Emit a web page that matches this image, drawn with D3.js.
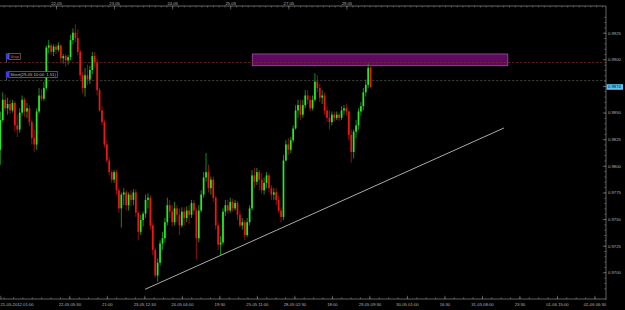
<!DOCTYPE html>
<html>
<head>
<meta charset="utf-8">
<script src="https://cdn.jsdelivr.net/npm/d3@7"></script>
<style>
  body { margin: 0; background: #000; }
  svg { display: block; }
  text { font-family: "Liberation Sans", Arial, sans-serif; font-size: 4.2px; }
</style>
</head>
<body>
<div id="chart"></div>
<script>
// H1 bars, bar n sits at chart hour n (hours counted from 21-05 00:00, weekend removed)
var opens = [
  0.9815, 0.9843, 0.9862, 0.9854, 0.9858, 0.9852, 0.9859, 0.9838, 0.9834, 0.9850,
  0.9862, 0.9851, 0.9854, 0.9841, 0.9826, 0.9820, 0.9851, 0.9866, 0.9863, 0.9873,
  0.9911, 0.9913, 0.9907, 0.9912, 0.9909, 0.9913, 0.9901, 0.9903, 0.9899, 0.9902,
  0.9918, 0.9925, 0.9920, 0.9907, 0.9885, 0.9873, 0.9885, 0.9881, 0.9890, 0.9903,
  0.9897, 0.9871, 0.9852, 0.9841, 0.9820, 0.9805, 0.9794, 0.9787, 0.9794, 0.9777,
  0.9760, 0.9773, 0.9775, 0.9763, 0.9773, 0.9768, 0.9775, 0.9756, 0.9738, 0.9749,
  0.9755, 0.9768, 0.9770, 0.9744, 0.9721, 0.9697, 0.9709, 0.9727, 0.9732, 0.9747,
  0.9763, 0.9757, 0.9747, 0.9760, 0.9754, 0.9744, 0.9757, 0.9751, 0.9758, 0.9754,
  0.9765, 0.9758, 0.9732, 0.9758, 0.9773, 0.9789, 0.9794, 0.9779, 0.9787, 0.9770,
  0.9744, 0.9726, 0.9728, 0.9757, 0.9763, 0.9758, 0.9766, 0.9760, 0.9765, 0.9754,
  0.9744, 0.9747, 0.9735, 0.9747, 0.9760, 0.9791, 0.9785, 0.9794, 0.9787, 0.9777,
  0.9784, 0.9791, 0.9779, 0.9773, 0.9775, 0.9768, 0.9758, 0.9752, 0.9805, 0.9820,
  0.9815, 0.9824, 0.9835, 0.9852, 0.9857, 0.9848, 0.9857, 0.9866, 0.9862, 0.9854,
  0.9862, 0.9879, 0.9873, 0.9864, 0.9866, 0.9852, 0.9845, 0.9841, 0.9848, 0.9845,
  0.9848, 0.9845, 0.9852, 0.9854, 0.9851, 0.9829, 0.9813, 0.9832, 0.9838, 0.9851,
  0.9856, 0.9869, 0.9876, 0.9892
];
var highs = [
  0.9851, 0.9869, 0.9867, 0.9864, 0.9862, 0.9862, 0.9861, 0.9848, 0.9854, 0.9866,
  0.9864, 0.9859, 0.9857, 0.9843, 0.9834, 0.9854, 0.9873, 0.9872, 0.9879, 0.9913,
  0.9918, 0.9915, 0.9914, 0.9914, 0.9916, 0.9914, 0.9905, 0.9905, 0.9904, 0.9923,
  0.9929, 0.9933, 0.9928, 0.9909, 0.9888, 0.9892, 0.9895, 0.9894, 0.9907, 0.9907,
  0.9901, 0.9873, 0.9856, 0.9843, 0.9824, 0.9808, 0.9796, 0.9796, 0.9796, 0.9779,
  0.9775, 0.9779, 0.9777, 0.9775, 0.9777, 0.9778, 0.9778, 0.9758, 0.9754, 0.9757,
  0.9773, 0.9774, 0.9772, 0.9747, 0.9723, 0.9713, 0.9730, 0.9738, 0.9751, 0.9770,
  0.9768, 0.9763, 0.9766, 0.9763, 0.9760, 0.9761, 0.9761, 0.9762, 0.9763, 0.9768,
  0.9768, 0.9760, 0.9763, 0.9777, 0.9794, 0.9812, 0.9801, 0.9790, 0.9790, 0.9772,
  0.9747, 0.9734, 0.9760, 0.9768, 0.9768, 0.9770, 0.9769, 0.9768, 0.9767, 0.9758,
  0.9751, 0.9749, 0.9751, 0.9763, 0.9796, 0.9798, 0.9798, 0.9796, 0.9793, 0.9789,
  0.9794, 0.9793, 0.9782, 0.9779, 0.9779, 0.9772, 0.9761, 0.9810, 0.9824, 0.9826,
  0.9827, 0.9838, 0.9857, 0.9862, 0.9862, 0.9862, 0.9871, 0.9871, 0.9866, 0.9866,
  0.9887, 0.9885, 0.9877, 0.9871, 0.9869, 0.9856, 0.9852, 0.9851, 0.9851, 0.9851,
  0.9850, 0.9856, 0.9857, 0.9858, 0.9852, 0.9834, 0.9834, 0.9843, 0.9854, 0.9860,
  0.9873, 0.9881, 0.9896, 0.9894
];
var lows = [
  0.9801, 0.9841, 0.9851, 0.9848, 0.9849, 0.9850, 0.9832, 0.9827, 0.9831, 0.9847,
  0.9846, 0.9845, 0.9837, 0.9820, 0.9813, 0.9815, 0.9849, 0.9861, 0.9861, 0.9871,
  0.9906, 0.9904, 0.9903, 0.9905, 0.9907, 0.9897, 0.9896, 0.9893, 0.9895, 0.9899,
  0.9914, 0.9916, 0.9904, 0.9881, 0.9868, 0.9865, 0.9876, 0.9877, 0.9886, 0.9892,
  0.9866, 0.9851, 0.9838, 0.9817, 0.9803, 0.9791, 0.9784, 0.9784, 0.9773, 0.9756,
  0.9742, 0.9763, 0.9758, 0.9758, 0.9762, 0.9763, 0.9752, 0.9730, 0.9735, 0.9743,
  0.9751, 0.9760, 0.9740, 0.9716, 0.9695, 0.9691, 0.9706, 0.9721, 0.9728, 0.9744,
  0.9751, 0.9743, 0.9744, 0.9747, 0.9735, 0.9742, 0.9744, 0.9747, 0.9745, 0.9751,
  0.9754, 0.9712, 0.9728, 0.9756, 0.9770, 0.9785, 0.9775, 0.9773, 0.9766, 0.9740,
  0.9721, 0.9716, 0.9726, 0.9753, 0.9755, 0.9756, 0.9757, 0.9758, 0.9749, 0.9742,
  0.9740, 0.9730, 0.9733, 0.9744, 0.9758, 0.9779, 0.9782, 0.9777, 0.9774, 0.9773,
  0.9779, 0.9775, 0.9768, 0.9768, 0.9763, 0.9756, 0.9747, 0.9749, 0.9804, 0.9810,
  0.9812, 0.9822, 0.9834, 0.9845, 0.9843, 0.9845, 0.9854, 0.9858, 0.9851, 0.9852,
  0.9860, 0.9869, 0.9860, 0.9858, 0.9848, 0.9841, 0.9834, 0.9838, 0.9842, 0.9843,
  0.9842, 0.9843, 0.9848, 0.9847, 0.9824, 0.9803, 0.9807, 0.9826, 0.9834, 0.9847,
  0.9852, 0.9865, 0.9873, 0.9873
];
var closes = [
  0.9843, 0.9862, 0.9854, 0.9858, 0.9852, 0.9859, 0.9838, 0.9834, 0.9850, 0.9862,
  0.9851, 0.9854, 0.9841, 0.9826, 0.9820, 0.9851, 0.9866, 0.9863, 0.9873, 0.9911,
  0.9913, 0.9907, 0.9912, 0.9909, 0.9913, 0.9901, 0.9903, 0.9899, 0.9902, 0.9918,
  0.9925, 0.9920, 0.9907, 0.9885, 0.9873, 0.9885, 0.9881, 0.9890, 0.9903, 0.9897,
  0.9871, 0.9852, 0.9841, 0.9820, 0.9805, 0.9794, 0.9787, 0.9794, 0.9777, 0.9760,
  0.9773, 0.9775, 0.9763, 0.9773, 0.9768, 0.9775, 0.9756, 0.9738, 0.9749, 0.9755,
  0.9768, 0.9770, 0.9744, 0.9721, 0.9697, 0.9709, 0.9727, 0.9732, 0.9747, 0.9763,
  0.9757, 0.9747, 0.9760, 0.9754, 0.9744, 0.9757, 0.9751, 0.9758, 0.9754, 0.9765,
  0.9758, 0.9732, 0.9758, 0.9773, 0.9789, 0.9794, 0.9779, 0.9787, 0.9770, 0.9744,
  0.9726, 0.9728, 0.9757, 0.9763, 0.9758, 0.9766, 0.9760, 0.9765, 0.9754, 0.9744,
  0.9747, 0.9735, 0.9747, 0.9760, 0.9791, 0.9785, 0.9794, 0.9787, 0.9777, 0.9784,
  0.9791, 0.9779, 0.9773, 0.9775, 0.9768, 0.9758, 0.9752, 0.9805, 0.9820, 0.9815,
  0.9824, 0.9835, 0.9852, 0.9857, 0.9848, 0.9857, 0.9866, 0.9862, 0.9854, 0.9862,
  0.9879, 0.9873, 0.9864, 0.9866, 0.9852, 0.9845, 0.9841, 0.9848, 0.9845, 0.9848,
  0.9845, 0.9852, 0.9854, 0.9851, 0.9829, 0.9813, 0.9832, 0.9838, 0.9851, 0.9856,
  0.9869, 0.9876, 0.9892, 0.9874
];

// Top axis day labels (chart hour of midnight)
var dayLabels = ["22.05", "23.05", "24.05", "25.05", "27.05", "29.05"];
var dayHours = [24, 48, 72, 96, 120, 144];

// Bottom axis time labels
var timeLabels = ["21-05-2012 01:00", "22-05 05:30", "21:00", "23-05 12:30", "24-05 04:00", "19:30",
  "25-05 11:00", "28-05 02:30", "18:00", "29-05 09:30", "30-05 01:00", "16:30",
  "31-05 08:00", "23:30", "01-06 15:00", "02-06 06:30"];
var timeHours = [1, 29.5, 45, 60.5, 76, 91.5, 107, 122.5, 138, 153.5, 169, 184.5, 200, 215.5, 231, 246.5];

// Price axis labels
var priceTicks = [0.9700, 0.9725, 0.9750, 0.9775, 0.9800, 0.9825, 0.9850, 0.9875, 0.9900, 0.9925];

// Order lines
var orderNames = ["Stop", "Short(29-05 10:04; 1.51)"];
var orderPrices = [0.9897, 0.9880];

// Supply zone rectangle (hours / prices)
var zoneHours = [105.1, 210.7];
var zonePrices = [0.9894, 0.9905];

// Trend line end points
var trendHours = [60.8, 209.1];
var trendPrices = [0.9684, 0.98355];

var svgWidth = 625;
var svgHeight = 310;
var axisRight = 606;
var axisTop = 6;
var axisBottom = 299;

var svg = d3.select("#chart")
  .append("svg")
  .attr("width", svgWidth)
  .attr("height", svgHeight);

svg.append("rect")
  .attr("width", svgWidth)
  .attr("height", svgHeight)
  .attr("fill", "#000");

var xScale = d3.scaleLinear().domain([0, 251]).range([-2.08, 605.34]);
var yScale = d3.scaleLinear().domain([0.97, 0.99]).range([272.3, 59.3]);

svg.append("clipPath").attr("id", "plot")
  .append("rect")
  .attr("x", 0).attr("y", axisTop)
  .attr("width", axisRight).attr("height", axisBottom - axisTop);

var plot = svg.append("g").attr("clip-path", "url(#plot)");

// zone
plot.append("rect")
  .attr("x", xScale(zoneHours[0]))
  .attr("y", yScale(zonePrices[1]))
  .attr("width", xScale(zoneHours[1]) - xScale(zoneHours[0]))
  .attr("height", yScale(zonePrices[0]) - yScale(zonePrices[1]))
  .attr("fill", "#5e0a5e")
  .attr("stroke", "#a050a0")
  .attr("stroke-width", 0.8);

// trend line
var trendLine = d3.line()
  .x(function (d) { return xScale(d[0]); })
  .y(function (d) { return yScale(d[1]); });
plot.append("path")
  .attr("d", trendLine(d3.zip(trendHours, trendPrices)))
  .attr("stroke", "#bdbdbd")
  .attr("stroke-width", 0.9)
  .attr("fill", "none");

// order lines
var lineColors = ["#7c2a2a", "#4a5444"];
orderPrices.forEach(function (p, i) {
  plot.append("line")
    .attr("x1", 0).attr("x2", axisRight)
    .attr("y1", yScale(p)).attr("y2", yScale(p))
    .attr("stroke", lineColors[i])
    .attr("stroke-width", 0.7)
    .attr("stroke-dasharray", "2.5,1.5");
});

// candles
var bars = d3.range(closes.length).map(function (i) {
  return { hour: i + 1, o: opens[i], h: highs[i], l: lows[i], c: closes[i] };
});

var candle = plot.selectAll(".candle")
  .data(bars)
  .enter()
  .append("g")
  .attr("class", "candle");

candle.append("line")
  .attr("x1", d => xScale(d.hour))
  .attr("x2", d => xScale(d.hour))
  .attr("y1", d => yScale(d.h))
  .attr("y2", d => yScale(d.l))
  .attr("stroke", d => d.c > d.o ? "#1c9a1c" : "#a31010")
  .attr("stroke-width", 0.9);

candle.append("rect")
  .attr("x", d => xScale(d.hour) - 0.85)
  .attr("y", d => yScale(Math.max(d.o, d.c)))
  .attr("width", 1.7)
  .attr("height", d => Math.max(0.6, Math.abs(yScale(d.o) - yScale(d.c))))
  .attr("fill", d => d.c > d.o ? "#22ee22" : "#f51414");

// order labels
var flagColors = ["#e04848", "#bdbdbd"];
orderPrices.forEach(function (p, i) {
  var y = yScale(p);
  svg.append("line")
    .attr("x1", 6.5).attr("x2", 6.5)
    .attr("y1", y - 3).attr("y2", y)
    .attr("stroke", "#8888cc").attr("stroke-width", 0.6);
  svg.append("rect")
    .attr("x", 5.8).attr("y", y - 9.2)
    .attr("width", 3.2).attr("height", 6.2)
    .attr("fill", "#3c3ce0");
  var t = svg.append("text")
    .attr("x", 10.2).attr("y", y - 4.6)
    .attr("fill", flagColors[i])
    .text(orderNames[i]);
  var w = t.node().getComputedTextLength();
  svg.insert("rect", "text")
    .attr("x", 9).attr("y", y - 9)
    .attr("width", w + 2.6).attr("height", 5.8)
    .attr("fill", "#000")
    .attr("stroke", "#8a8a8a").attr("stroke-width", 0.6);
});

// axes frame
var axisColor = "#8c8c8c";
var labelColor = "#b5b5b5";

svg.append("line")
  .attr("x1", 0).attr("x2", axisRight)
  .attr("y1", axisTop).attr("y2", axisTop)
  .attr("stroke", axisColor).attr("stroke-width", 0.7);
svg.append("line")
  .attr("x1", 0).attr("x2", axisRight)
  .attr("y1", axisBottom).attr("y2", axisBottom)
  .attr("stroke", axisColor).attr("stroke-width", 0.7);
svg.append("line")
  .attr("x1", axisRight).attr("x2", axisRight)
  .attr("y1", axisTop).attr("y2", axisBottom + 1)
  .attr("stroke", axisColor).attr("stroke-width", 0.7);

function styleAxis(g) {
  g.select(".domain").remove();
  g.selectAll("line").attr("stroke", axisColor).attr("stroke-width", 0.6);
  g.selectAll("text").attr("fill", labelColor).attr("font-size", "4.2px")
    .attr("font-family", "Liberation Sans, Arial, sans-serif");
}

// top axis
var topMinor = d3.axisTop(xScale)
  .tickValues(d3.range(2.4, 250, 2.4))
  .tickFormat("")
  .tickSizeInner(-1.4).tickSizeOuter(0);
svg.append("g").attr("transform", `translate(0, ${axisTop})`).call(topMinor).call(styleAxis);

var topMajor = d3.axisTop(xScale)
  .tickValues(dayHours)
  .tickFormat((d, i) => dayLabels[i])
  .tickSizeInner(-3.5).tickSizeOuter(0)
  .tickPadding(1.4);
svg.append("g").attr("transform", `translate(0, ${axisTop})`).call(topMajor).call(styleAxis);

// bottom axis
var bottomMinor = d3.axisBottom(xScale)
  .tickValues(d3.range(2.375, 250, 3.875))
  .tickFormat("")
  .tickSizeInner(-1.6).tickSizeOuter(0);
svg.append("g").attr("transform", `translate(0, ${axisBottom})`).call(bottomMinor).call(styleAxis);

var bottomMajor = d3.axisBottom(xScale)
  .tickValues(timeHours)
  .tickFormat((d, i) => timeLabels[i])
  .tickSizeInner(-3.2).tickSizeOuter(0)
  .tickPadding(4.3);
var bottomG = svg.append("g").attr("transform", `translate(0, ${axisBottom})`).call(bottomMajor).call(styleAxis);
bottomG.selectAll("text").filter((d, i) => i === 0).attr("text-anchor", "start").attr("x", -xScale(1));

// right price axis
var rightMinor = d3.axisRight(yScale)
  .tickValues(d3.range(0.9685, 0.9941, 0.0005))
  .tickFormat("")
  .tickSizeInner(-1.6).tickSizeOuter(0);
svg.append("g").attr("transform", `translate(${axisRight}, 0)`).call(rightMinor).call(styleAxis);

var rightMajor = d3.axisRight(yScale)
  .tickValues(priceTicks)
  .tickFormat(d3.format(".4f"))
  .tickSizeInner(-3.2).tickSizeOuter(0)
  .tickPadding(2);
svg.append("g").attr("transform", `translate(${axisRight}, 0)`).call(rightMajor).call(styleAxis);

// current price tag
var lastPrice = closes[closes.length - 1];
svg.append("rect")
  .attr("x", axisRight + 0.6).attr("y", yScale(lastPrice) - 2.8)
  .attr("width", 16.4).attr("height", 5.6)
  .attr("fill", "#5cc6f2");
svg.append("text")
  .attr("x", axisRight + 2).attr("y", yScale(lastPrice) + 1.5)
  .attr("fill", "#000")
  .text(d3.format(".4f")(lastPrice));
</script>
</body>
</html>
